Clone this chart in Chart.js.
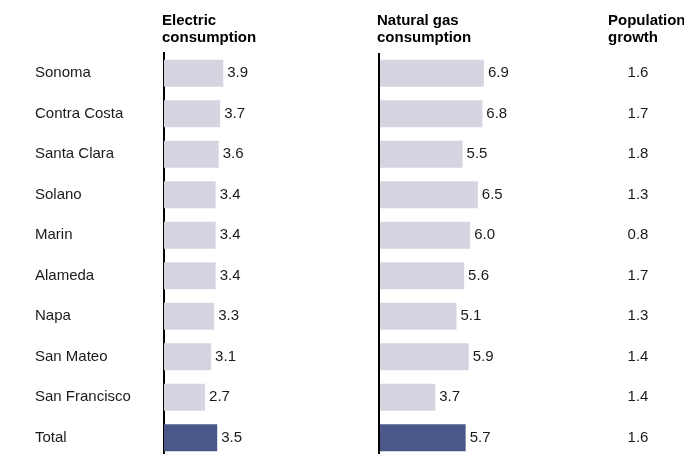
<!DOCTYPE html>
<html>
<head>
<meta charset="utf-8">
<script src="https://cdn.jsdelivr.net/npm/chart.js@4/dist/chart.umd.min.js"></script>
<style>
  html, body { margin: 0; padding: 0; background: #fff; overflow: hidden; }
  #wrap { position: relative; width: 684px; height: 467px; }
</style>
</head>
<body>
<div id="wrap"><canvas id="chart" width="684" height="467"></canvas></div>
<script>
const counties = ['Sonoma', 'Contra Costa', 'Santa Clara', 'Solano', 'Marin', 'Alameda', 'Napa', 'San Mateo', 'San Francisco', 'Total'];
const electric = [3.9, 3.7, 3.6, 3.4, 3.4, 3.4, 3.3, 3.1, 2.7, 3.5];
const naturalGas = [6.9, 6.8, 5.5, 6.5, 6.0, 5.6, 5.1, 5.9, 3.7, 5.7];
const popGrowth = [1.6, 1.7, 1.8, 1.3, 0.8, 1.7, 1.3, 1.4, 1.4, 1.6];

const LIGHT = '#d6d4e1';
const DARK = '#4a5889';
const FONT = '"Liberation Sans", Arial, sans-serif';

// Total row is darker
const barColors = counties.map(c => (c === 'Total' ? DARK : LIGHT));

const PX_PER_UNIT = 15.2;
const AREA_W = 684 - 164;
const GAS_ZERO = (379 - 164) / PX_PER_UNIT;

// labels at bar ends, population column, headers, gas axis line
const extras = {
  id: 'extras',
  afterDatasetsDraw(chart) {
    const ctx = chart.ctx;
    const y = chart.scales.y;
    const x2 = chart.scales.x2;
    ctx.save();

    // gas axis line
    const gx = Math.round(x2.getPixelForValue(0));
    ctx.strokeStyle = '#000';
    ctx.lineWidth = 2;
    ctx.beginPath();
    ctx.moveTo(gx, chart.chartArea.top);
    ctx.lineTo(gx, chart.chartArea.bottom);
    ctx.stroke();

    ctx.font = '15px ' + FONT;
    ctx.fillStyle = '#1a1a1a';
    ctx.textBaseline = 'middle';
    chart.data.datasets.forEach((ds, di) => {
      const meta = chart.getDatasetMeta(di);
      meta.data.forEach((bar, i) => {
        ctx.textAlign = 'left';
        ctx.fillText(ds.data[i].toFixed(1), bar.x + 4, bar.y);
      });
    });

    ctx.textAlign = 'center';
    popGrowth.forEach((v, i) => {
      ctx.fillText(v.toFixed(1), 638, y.getPixelForValue(i));
    });

    // column headers
    ctx.font = 'bold 15px ' + FONT;
    ctx.textAlign = 'left';
    ctx.textBaseline = 'alphabetic';
    ctx.fillStyle = '#000';
    ctx.fillText('Electric', 162, 25);
    ctx.fillText('consumption', 162, 42);
    ctx.fillText('Natural gas', 377, 25);
    ctx.fillText('consumption', 377, 42);
    ctx.fillText('Population', 608, 25);
    ctx.fillText('growth', 608, 42);
    ctx.restore();
  }
};

new Chart(document.getElementById('chart'), {
  type: 'bar',
  data: {
    labels: counties,
    datasets: [
      {
        label: 'Electric consumption',
        data: electric,
        xAxisID: 'x1',
        backgroundColor: barColors,
        barPercentage: 0.67,
        categoryPercentage: 1,
        grouped: false,
      },
      {
        label: 'Natural gas consumption',
        data: naturalGas,
        xAxisID: 'x2',
        backgroundColor: barColors,
        barPercentage: 0.67,
        categoryPercentage: 1,
        grouped: false,
      },
    ],
  },
  options: {
    indexAxis: 'y',
    responsive: false,
    animation: false,
    layout: { padding: { left: 35, top: 53, right: 0, bottom: 3 } },
    plugins: { legend: { display: false }, tooltip: { enabled: false } },
    scales: {
      y: {
        grid: { display: false },
        border: { display: true, color: '#000', width: 2 },
        ticks: {
          autoSkip: false,
          crossAlign: 'far',
          padding: 0,
          color: '#1a1a1a',
          font: { family: FONT, size: 15 },
        },
        afterFit(scale) { scale.width = 129; },
      },
      x1: { display: false, min: 0, max: AREA_W / PX_PER_UNIT },
      x2: { display: false, min: -GAS_ZERO, max: AREA_W / PX_PER_UNIT - GAS_ZERO },
    },
  },
  plugins: [extras],
});
</script>
</body>
</html>
